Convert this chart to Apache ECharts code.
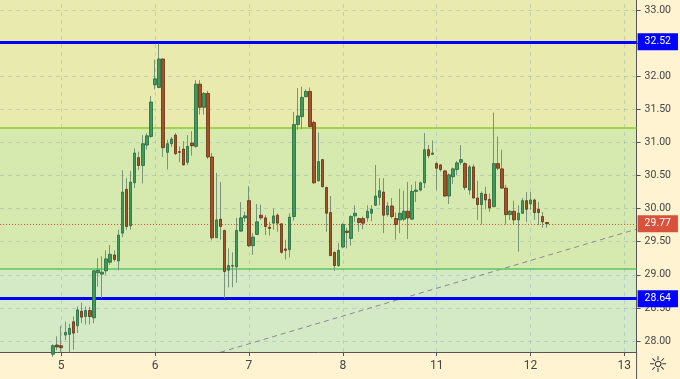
<!DOCTYPE html>
<html><head><meta charset="utf-8">
<script src="https://cdn.jsdelivr.net/npm/echarts@6/dist/echarts.min.js"></script>
<style>html,body{margin:0;padding:0;background:#FFF3D2;}#c{width:680px;height:379px;}</style>
</head><body><div id="c"></div>
<script>
// ---- data (hourly candles) ----
const opens  = [27.80,27.94,27.93,28.09,28.10,28.29,28.23,28.45,28.37,28.46,28.35,29.03,29.01,29.06,29.19,29.30,29.21,29.63,30.29,29.74,30.39,30.77,30.65,30.96,31.09,31.87,31.83,32.26,30.85,30.98,31.11,30.86,30.90,30.70,30.99,30.94,31.88,31.53,31.74,30.78,29.56,29.84,29.67,29.07,29.13,29.12,29.66,29.86,30.12,29.44,29.61,29.90,29.86,29.72,29.78,29.90,29.77,29.39,29.38,29.88,31.27,31.39,31.69,31.77,31.30,30.42,30.74,30.32,29.94,29.34,29.14,29.42,29.66,29.55,29.89,29.85,29.85,29.86,29.93,30.05,30.17,30.25,29.91,30.04,29.85,29.83,29.84,29.96,29.84,30.26,30.28,30.39,30.89,30.82,30.68,30.66,30.57,30.19,30.48,30.59,30.70,30.68,30.28,30.63,30.16,30.06,30.22,30.14,30.03,30.68,30.60,30.31,29.91,29.96,29.83,29.93,30.12,30.07,30.13,29.99,29.88,29.79];
const closes = [27.93,27.91,27.90,28.13,28.19,28.12,28.47,28.36,28.46,28.37,29.06,29.07,29.04,29.24,29.31,29.23,29.60,30.25,29.73,30.40,30.84,30.65,30.98,31.10,31.61,31.96,32.26,30.92,30.98,31.05,30.83,30.85,30.66,30.94,30.95,31.88,31.53,31.74,30.78,29.56,29.83,29.73,29.05,29.14,29.14,29.67,29.86,29.89,29.44,29.57,29.80,29.86,29.73,29.70,29.89,29.78,29.34,29.37,29.87,31.27,31.40,31.68,31.77,31.24,30.39,30.71,30.33,29.93,29.29,29.14,29.37,29.76,29.64,29.88,29.93,29.79,29.78,29.96,29.99,30.19,30.27,29.90,30.04,29.88,29.76,29.93,29.96,29.86,30.26,30.28,30.39,30.89,30.80,30.84,30.61,30.59,30.19,30.51,30.60,30.69,30.74,30.32,30.63,30.16,30.06,30.23,30.13,30.01,30.68,30.61,30.31,29.91,29.96,29.83,29.93,30.12,29.99,30.13,29.94,29.94,29.80,29.77];
const lows   = [27.76,27.86,27.83,28.01,27.83,27.87,28.12,28.27,28.25,28.25,28.27,28.82,28.65,29.00,29.15,29.20,29.07,29.57,29.68,29.68,30.31,30.58,30.38,30.89,31.07,31.80,31.82,30.78,30.59,30.93,30.81,30.70,30.65,30.66,30.80,30.92,31.42,31.42,30.75,29.52,29.56,29.53,28.65,28.81,28.81,28.88,29.65,29.80,29.42,29.30,29.60,29.83,29.60,29.59,29.68,29.65,29.32,29.23,29.26,29.82,31.19,31.20,31.68,31.23,30.37,30.41,30.32,29.65,29.29,29.06,29.12,29.40,29.40,29.44,29.80,29.65,29.69,29.80,29.81,30.04,30.05,29.63,29.88,29.85,29.53,29.63,29.81,29.54,29.83,30.10,30.26,30.31,30.76,30.81,30.28,30.56,30.18,30.07,30.37,30.51,30.66,30.28,30.21,30.15,29.83,29.76,29.99,29.95,30.02,30.58,30.30,29.76,29.83,29.76,29.35,29.92,29.80,29.98,29.83,29.75,29.71,29.71];
const highs  = [27.95,28.07,28.23,28.29,28.26,28.37,28.52,28.58,28.52,28.52,29.07,29.25,29.28,29.37,29.45,29.37,29.68,30.58,30.46,30.57,30.91,30.86,31.11,31.14,31.70,32.25,32.49,32.27,31.04,31.08,31.14,30.94,31.02,31.11,31.17,31.94,31.94,31.76,31.78,30.84,30.54,30.40,29.68,29.40,29.34,29.86,30.10,29.95,30.34,29.63,30.07,30.06,29.90,29.80,30.00,29.93,29.78,29.53,29.93,31.46,31.82,31.84,31.80,31.83,31.33,31.15,30.75,30.33,30.19,29.35,29.48,29.78,29.71,29.90,30.05,29.86,29.88,30.05,30.05,30.66,30.46,30.46,30.10,30.16,29.94,30.30,30.27,30.40,30.36,30.41,30.41,31.14,30.96,31.03,30.71,30.67,30.58,30.53,30.62,30.72,30.96,30.70,30.66,30.67,30.42,30.26,30.33,30.23,31.45,31.09,30.89,30.36,29.98,30.12,30.05,30.16,30.25,30.25,30.15,30.10,29.95,29.80];
const firstBar = 13;          // slot of the first candle
const slotCount = 157;        // hourly slots on the axis
const dayLabels = ['5','6','7','8','11','12','13'];
const dayIndex  = [15,38,61,84,107,130,153];
const priceTicks = [28,28.5,29,29.5,30,30.5,31,31.5,32,32.5,33];
const yMin = 27.834, yMax = 33.151;
const resistance = 32.52, support = 28.64, lastPrice = 29.77;
const zoneTop = 31.22, zoneBottom = 29.09;
const trendPoints = [[54,27.83],[156,29.69]];

// ---- build ----
const categories = Array.from({length: slotCount}, (_, i) => 'h' + i);
const labelAt = {};
dayIndex.forEach((idx, k) => { labelAt[idx] = dayLabels[k]; });
const isDay = (i) => labelAt[i] !== undefined;

const full = categories.map(() => '-');
const bodies = categories.map(() => '-');
opens.forEach((o, k) => {
  const c = closes[k];
  full[firstBar + k] = [o, c, lows[k], highs[k]];
  bodies[firstBar + k] = [o, c, Math.min(o, c), Math.max(o, c)];
});

const gridColor = 'rgba(120,150,185,0.30)';
const chart = echarts.init(document.getElementById('c'), null, {renderer: 'canvas'});
chart.setOption({
  animation: false,
  backgroundColor: '#FFF3D2',
  grid: {left: -1, right: 43.4, top: 0, bottom: 27, containLabel: false},
  xAxis: {
    type: 'category', data: categories, boundaryGap: false, z: 4,
    axisLine: {show: true, lineStyle: {color: '#555', width: 1}},
    axisTick: {show: true, interval: (i) => isDay(i), length: 4, lineStyle: {color: '#555'}},
    axisLabel: {interval: (i) => isDay(i), formatter: (v, i) => labelAt[i] || '', color: '#444', fontSize: 12, margin: 8, fontFamily: 'Roboto'},
    splitLine: {show: false}
  },
  yAxis: {
    type: 'value', position: 'right', min: yMin, max: yMax, z: 4,
    axisLine: {show: true, lineStyle: {color: '#555', width: 1}},
    axisTick: {show: true, customValues: priceTicks, length: 4, lineStyle: {color: '#555'}},
    axisLabel: {customValues: priceTicks, formatter: (v) => Number(v).toFixed(2), color: '#444', fontSize: 10.5, margin: 8, fontFamily: 'Roboto'},
    splitLine: {show: false}
  },
  graphic: [
    {type: 'line', z: 20, shape: {x1: 636.6, y1: 352, x2: 636.6, y2: 379}, style: {stroke: '#555', lineWidth: 1}},
    {type: 'text', z: 20, x: 658, y: 366, style: {text: '☼', fontSize: 22, fill: '#333', align: 'center', verticalAlign: 'middle', fontFamily: 'DejaVu Sans'}}
  ],
  series: [
    {
      name: 'zones', type: 'line', data: [], z: 1, silent: true,
      markArea: {silent: true, data: [
        [{yAxis: zoneTop, itemStyle: {color: '#E9EAAE'}}, {yAxis: yMax}],
        [{yAxis: zoneBottom, itemStyle: {color: '#D6EAAF'}}, {yAxis: zoneTop}],
        [{yAxis: yMin, itemStyle: {color: '#D4E9C5'}}, {yAxis: zoneBottom}]
      ]}
    },
    {
      name: 'gridlines', type: 'line', data: [], z: 2, silent: true,
      markLine: {silent: true, symbol: ['none','none'], label: {show: false},
        lineStyle: {type: [4,4], color: gridColor, width: 1},
        data: priceTicks.map(v => ({yAxis: v})).concat(dayIndex.map(i => ({xAxis: categories[i]})))}
    },
    {
      name: 'zonelines', type: 'line', data: [], z: 3, silent: true,
      markLine: {silent: true, symbol: ['none','none'], label: {show: false},
        data: [
          {yAxis: zoneTop, lineStyle: {color: '#8CCB2E', width: 1.5, type: 'solid'}},
          {yAxis: zoneBottom, lineStyle: {color: '#5EC45A', width: 1.5, type: 'solid'}}
        ]}
    },
    {
      name: 'trend', type: 'line', z: 3, silent: true, symbol: 'none',
      data: trendPoints.map(p => [categories[p[0]], p[1]]),
      lineStyle: {type: [5,4], color: '#8a8a8a', width: 1}
    },
    {
      name: 'wicks', type: 'candlestick', z: 5, barWidth: 1, data: full, silent: true,
      itemStyle: {color: 'transparent', color0: 'transparent', borderColor: '#7b9479', borderColor0: '#7b9479', borderWidth: 1}
    },
    {
      name: 'bodies', type: 'candlestick', z: 6, barWidth: 3, data: bodies, silent: true,
      itemStyle: {color: '#3f9a5c', color0: '#a3522a', borderColor: '#25683c', borderColor0: '#6a2c10', borderWidth: 0.8}
    },
    {
      name: 'last', type: 'line', data: [], z: 11, silent: true,
      markLine: {silent: true, symbol: ['none','none'],
        label: {show: true, position: 'end', distance: 1, formatter: (p) => Number(p.value).toFixed(2), color: '#fff', fontSize: 10.5, fontFamily: 'Roboto', padding: [3,7,3,7]},
        data: [
          {yAxis: lastPrice, lineStyle: {color: '#D9533C', width: 1, type: [1,2]}, label: {backgroundColor: '#D9533C'}},
          {yAxis: resistance, lineStyle: {color: '#0000FF', width: 3, type: 'solid'}, label: {backgroundColor: '#0000FF'}},
          {yAxis: support, lineStyle: {color: '#0000FF', width: 3, type: 'solid'}, label: {backgroundColor: '#0000FF'}}
        ]}
    }
  ]
});
</script></body></html>
